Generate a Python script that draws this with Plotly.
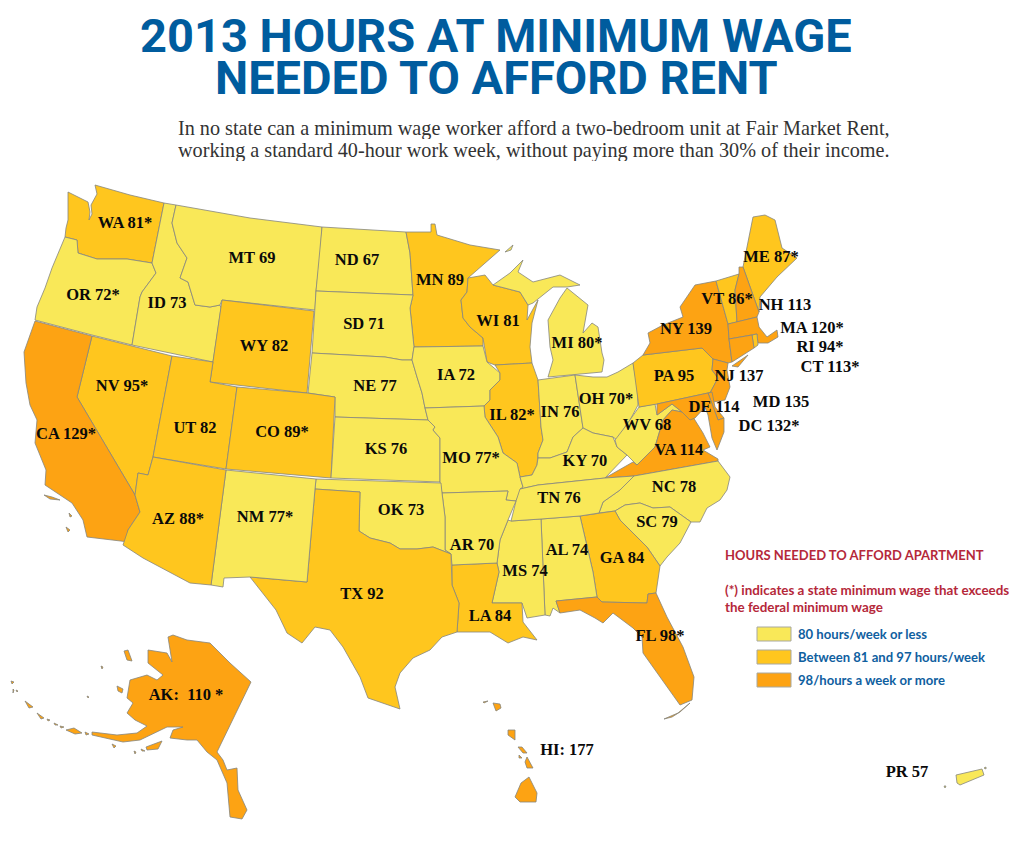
import plotly.graph_objects as go

STATES = ["WA","OR","ID","MT","ND","MN","SD","WY","WI","MI","NV","NE","IA","UT","CO","CA","IL","IN","OH","KS",
          "MO","KY","WV","VA","PA","NY","VT","ME","NH","MA","RI","CT","NJ","DE","MD","DC","NC","SC","GA","AL",
          "MS","LA","FL","TN","AR","OK","TX","NM","AZ","AK","HI","PR"]
HOURS = [81,72,73,69,67,89,71,82,81,80,95,77,72,82,89,129,82,76,70,76,
         77,70,68,114,95,139,86,87,113,120,94,113,137,114,135,132,78,79,84,74,
         74,84,98,76,70,73,92,77,88,110,177,57]
STARRED = ["WA","OR","MI","NV","CO","CA","IL","OH","MO","VT","ME","MA","RI","CT","DC","FL","NM","AZ","AK"]
LABEL_X = [125,93,167,252,357,440,364,264,498,577,122,375,456,195,282,66,512,560,606,386,
           471,585,647,679,674,686,727,771,785,812,820,830,739,714,781,769,674,657,622,567,
           525,490,660,559,472,401,362,265,178,186,567,907]
LABEL_Y = [224,296,304,259,261,281,325,347,322,344,387,387,376,429,433,435,416,413,400,450,
           459,462,426,451,377,330,300,258,306,329,348,368,377,408,403,427,488,523,559,551,
           572,617,637,499,546,511,595,518,520,696,751,773]

TITLE_LINES = ["2013 HOURS AT MINIMUM WAGE", "NEEDED TO AFFORD RENT"]
SUBTITLE_LINES = ["In no state can a minimum wage worker afford a two-bedroom unit at Fair Market Rent,",
                  "working a standard 40-hour work week, without paying more than 30% of their income."]
LEGEND_HEAD = ["HOURS NEEDED TO AFFORD APARTMENT", "(*) indicates a state minimum wage that exceeds", "the federal minimum wage"]
BIN_LABELS = ["80 hours/week or less", "Between 81 and 97 hours/week", "98/hours a week or more"]
BIN_COLORS = ["#F9E858", "#FFC61E", "#FDA313"]

# ---- state outlines, in map units ----
WA = [(68,192),(78,197),(88,202),(90,212),(89,220),(92,214),(91,205),(97,194),(95,185),(130,195),(164,203),(152,263),(127,259),(97,259),(78,253),(77,240),(65,237),(66,228),(68,220)]
OR = [(65,237),(77,240),(78,253),(97,259),(127,259),(152,263),(156,273),(142,292),(140,297),(132,345),(92,335),(35,320),(37,307),(45,288),(52,268)]
CA = [(35,321),(92,336),(77,397),(135,495),(140,512),(128,530),(129,542),(87,537),(83,520),(72,503),(45,485),(46,470),(35,443),(37,420),(30,405),(26,383),(24,352),None,
      (44,495),(52,497),(60,500),(50,499),None,(69,513),(72,516),(70,517),None,(66,527),(70,530),(68,532)]
NV = [(92,336),(172,356),(153,457),(148,475),(138,473),(135,495),(77,397)]
ID = [(164,203),(176,205),(172,223),(177,243),(187,258),(180,278),(188,282),(195,305),(210,307),(220,305),(221,308),(213,362),(132,345),(140,297),(142,292),(156,273),(152,263)]
MT = [(176,205),(250,218),(322,227),(320,258),(316,291),(315,310),(222,300),(220,305),(210,307),(195,305),(188,282),(180,278),(187,258),(177,243),(172,223)]
ND = [(322,227),(406,232),(410,253),(413,295),(316,291)]
SD = [(316,291),(413,295),(410,308),(414,347),(412,360),(402,360),(385,357),(312,353)]
WY = [(222,300),(314,311),(307,393),(210,382)]
UT = [(172,356),(213,362),(210,382),(237,387),(226,469),(153,457)]
CO = [(237,387),(307,393),(335,397),(331,478),(226,469)]
NM = [(226,470),(316,479),(315,489),(307,582),(250,577),(224,578),(223,587),(211,585)]
AZ = [(153,457),(226,470),(211,585),(190,583),(143,558),(123,545),(128,530),(140,512),(135,495),(138,473),(148,475)]
TX = [(315,489),(360,492),(359,531),(370,538),(390,543),(400,549),(417,549),(433,547),(451,554),(452,585),(459,603),(457,632),(442,637),(430,650),(413,658),(400,673),(395,687),(400,709),(368,698),(360,677),(343,647),(330,630),(315,627),(302,643),(287,633),(276,610),(250,577),(307,582)]
OK = [(316,479),(441,483),(442,493),(445,517),(445,550),(451,554),(433,547),(417,549),(400,549),(390,543),(370,538),(359,531),(360,492),(315,489)]
KS = [(335,417),(428,420),(435,427),(433,430),(440,438),(440,482),(331,478)]
NE = [(312,353),(385,357),(402,360),(412,360),(417,377),(422,393),(425,408),(428,420),(335,417),(335,397),(308,393)]
IA = [(414,347),(483,346),(487,362),(500,373),(500,380),(490,390),(490,400),(484,406),(425,408),(422,393),(417,377),(412,360)]
MN = [(406,232),(431,232),(431,224),(435,224),(437,235),(457,241),(470,245),(500,250),(480,268),(468,278),(467,292),(461,300),(463,318),(470,327),(483,338),(483,346),(414,347),(410,308),(413,295),(410,253)]
WI = [(468,278),(485,275),(493,285),(520,292),(528,305),(527,320),(538,300),(532,323),(530,347),(532,363),(495,365),(487,362),(483,338),(470,327),(463,318),(461,300),(467,292)]
IL = [(495,365),(532,363),(538,380),(541,427),(543,440),(538,453),(537,465),(532,475),(520,477),(517,463),(503,453),(498,437),(485,417),(484,406),(490,400),(490,390),(500,380),(500,373)]
MO = [(425,408),(484,406),(485,417),(498,437),(503,453),(517,463),(520,477),(523,487),(516,501),(506,500),(508,491),(442,493),(440,482),(440,438),(433,430),(435,427),(428,420)]
AR = [(442,493),(508,491),(506,500),(516,501),(508,520),(500,540),(497,563),(452,565),(451,554),(445,550),(445,517)]
LA = [(452,565),(497,563),(499,572),(492,603),(522,603),(523,622),(537,640),(523,637),(508,643),(490,632),(457,632),(459,603),(452,585)]
MS = [(511,521),(541,519),(545,615),(527,618),(522,603),(492,603),(499,572),(497,563),(500,540),(508,520)]
AL = [(541,519),(580,516),(593,572),(597,597),(556,601),(560,613),(553,608),(550,616),(545,615)]
GA = [(580,516),(615,511),(620,520),(647,547),(660,566),(656,593),(648,594),(647,603),(602,602),(597,597),(593,572)]
FL = [(556,601),(597,597),(602,602),(647,603),(648,594),(656,593),(667,617),(683,647),(694,677),(692,700),(680,705),(660,677),(643,653),(642,637),(633,628),(613,613),(603,623),(595,618),(580,610),(560,613),None,
      (664,719),(678,713),(690,703),(680,712),(672,717)]
SC = [(615,511),(625,505),(640,503),(653,508),(670,507),(691,522),(680,543),(667,557),(660,566),(647,547),(620,520)]
NC = [(599,513),(603,502),(620,490),(634,476),(718,461),(730,477),(727,490),(720,500),(707,508),(700,522),(691,522),(670,507),(653,508),(640,503),(625,505),(615,511)]
TN = [(520,489),(538,485),(605,478),(634,476),(620,490),(603,502),(599,513),(580,516),(541,519),(511,521),(516,501)]
KY = [(520,477),(532,475),(537,465),(538,458),(550,458),(567,452),(573,437),(583,428),(593,433),(613,437),(617,447),(627,455),(605,478),(538,485),(520,489),(523,487)]
IN = [(538,380),(575,375),(583,428),(573,437),(567,452),(550,458),(538,458),(538,453),(543,440),(541,427)]
OH = [(575,375),(593,377),(607,377),(618,372),(633,363),(637,385),(638,405),(630,420),(625,427),(617,440),(613,437),(593,433),(583,428)]
MI = [(548,377),(602,372),(604,360),(602,353),(598,327),(592,323),(583,333),(588,305),(567,288),(560,298),(548,320),(550,347),(553,360),None,
      (493,285),(510,273),(523,260),(518,272),(533,282),(560,275),(580,285),(567,287),(553,287),(533,303),(528,305),(520,292),None,
      (505,252),(513,245),(511,250)]
WV = [(639,407),(655,404),(657,415),(672,404),(682,412),(672,410),(663,420),(655,447),(637,465),(627,455),(617,447),(615,440),(625,427),(630,420)]
VA = [(605,478),(633,462),(637,465),(655,447),(663,420),(672,410),(682,412),(693,417),(703,433),(710,447),(703,450),(718,459),(718,461),(634,476)]
MD = [(657,404),(708,393),(718,420),(724,418),(724,432),(717,450),(712,438),(708,415),(705,407),(695,418),(690,420),(682,412),(672,404),(657,415)]
DE = [(708,393),(712,392),(715,407),(724,418),(718,420)]
NJ = [(713,359),(728,363),(727,370),(730,387),(725,400),(713,402),(710,393),(718,378),(712,370)]
PA = [(633,363),(643,355),(702,348),(713,359),(712,370),(718,378),(710,393),(708,393),(657,404),(639,407)]
NY = [(643,355),(650,343),(648,333),(663,325),(683,317),(680,307),(695,285),(716,281),(728,324),(729,339),(732,362),(728,363),(713,359),(702,348),None,(732,366),(748,355),(738,367)]
VT = [(716,281),(739,274),(735,290),(737,322),(728,324)]
NH = [(739,267),(743,267),(759,312),(757,317),(737,322),(735,290),(739,274)]
ME = [(743,267),(753,217),(765,215),(775,220),(782,248),(797,258),(777,277),(760,297),(759,312)]
MA = [(728,324),(757,317),(759,327),(767,337),(777,330),(778,337),(768,343),(758,343),(757,334),(729,339)]
CT = [(729,339),(752,335),(754,348),(732,362)]
RI = [(752,335),(757,334),(758,345),(754,348)]
AK = [(168,637),(173,635),(187,640),(210,643),(230,663),(251,682),(217,752),(223,760),(227,770),(237,768),(238,790),(247,810),(242,819),(230,817),(227,783),(217,760),(207,752),(197,740),(187,740),(170,738),(173,730),(183,727),(167,727),(140,740),(123,742),(92,735),(92,732),(117,735),(137,733),(147,726),(135,720),(127,713),(133,703),(127,698),(130,680),(147,675),(157,680),(163,675),(148,663),(148,650),(167,653),(172,662),None,
      (124,651),(128,650),(132,661),(127,660),None,(117,686),(123,689),(122,693),(118,691),None,(146,747),(162,741),(158,749),(147,750),None,
      (66,730),(74,728),(82,733),(75,734),None,(25,701),(33,707),(29,708),None,(37,713),(44,718),(41,719),None,(3,656),(5,655),(6,660),(3,660),None,
      (11,681),(14,682),(12,684),None,(13,689),(14,690),(13,693),None,(16,690),(18,691),(17,692),None,(47,719),(50,720),(48,721),None,(54,723),(58,725),(55,725),None,
      (60,726),(64,727),(61,728),None,(85,732),(89,734),(86,735),None,(101,666),(103,667),(102,669),None,(87,696),(89,697),(88,698),None,
      (112,744),(116,746),(114,748),None,(134,751),(136,752),(135,754),None,(141,749),(145,751),(142,751)]
HI = [(529,777),(537,793),(536,802),(520,802),(515,797),(521,783),None,(527,757),(533,768),(527,768),(525,762),None,(508,730),(515,730),(515,740),(508,735),None,
      (493,703),(500,704),(501,708),(496,711),None,(483,702),(488,701),(484,703),None,(518,747),(522,747),(527,753),(523,753),None,(519,755),(522,758),(519,758)]
PR = [(956,775),(982,769),(984,775),(960,785),(957,783),None,(984,768),(986,767),(986,769),None,(944,786),(946,786),(945,788)]
DC = []

OUTLINES = [WA,OR,ID,MT,ND,MN,SD,WY,WI,MI,NV,NE,IA,UT,CO,CA,IL,IN,OH,KS,MO,KY,WV,VA,PA,NY,VT,ME,NH,MA,RI,CT,NJ,DE,MD,DC,NC,SC,GA,AL,MS,LA,FL,TN,AR,OK,TX,NM,AZ,AK,HI,PR]


def bin_color(h):
    return BIN_COLORS[0] if h <= 80 else BIN_COLORS[1] if h <= 97 else BIN_COLORS[2]


BORDER = "#85857d"
fig = go.Figure()
for abbr, hrs, pts in zip(STATES, HOURS, OUTLINES):
    if not pts:
        continue
    xs = [p[0] if p else None for p in pts]
    ys = [p[1] if p else None for p in pts]
    cx, cy, start = [], [], 0
    for i, p in enumerate(pts + [None]):
        if p is None:
            cx += xs[start:i] + [xs[start], None]
            cy += ys[start:i] + [ys[start], None]
            start = i + 1
    fig.add_trace(go.Scatter(x=cx, y=cy, mode="lines", fill="toself", fillcolor=bin_color(hrs),
                             line=dict(color=BORDER, width=0.8), name=abbr, hoverinfo="skip", showlegend=False))

labels = []
for a, h in zip(STATES, HOURS):
    sep = ": " if a == "HI" else ":  " if a == "AK" else " "
    star = (" *" if a == "AK" else "*") if a in STARRED else ""
    labels.append(f"{a}{sep}{h}{star}")
fig.add_trace(go.Scatter(x=LABEL_X, y=LABEL_Y, mode="text", text=labels, textposition="middle center",
                         textfont=dict(family="Liberation Serif", size=16.5, color="#0a0a0a", weight="bold"),
                         hoverinfo="skip", showlegend=False))

TITLE_BLUE = "#005C9E"
RED = "#B5283A"
LEG_BLUE = "#0F609F"


def note(x, y, text, size, color, family, anchor="left", bold=True, height=None):
    fig.add_annotation(x=x, y=y, xref="x", yref="y", text=f"<b>{text}</b>" if bold else text, showarrow=False,
                       xanchor=anchor, yanchor="middle", height=height,
                       font=dict(size=size, color=color, family=family))


for y, t in zip([35, 77], TITLE_LINES):
    note(496, y, t, 47, TITLE_BLUE, "Roboto", "center", height=42)
for y, t in zip([128, 150], SUBTITLE_LINES):
    note(176, y, t, 20.2, "#333333", "Liberation Serif", bold=False, height=22)
for y, t, s in zip([555, 590, 607], LEGEND_HEAD, [13, 13.4, 13.4]):
    note(723, y, t, s, RED, "Lato")
for y, t, c in zip([634, 657, 680], BIN_LABELS, BIN_COLORS):
    note(796, y, t, 13.1, LEG_BLUE, "Lato")
    fig.add_shape(type="rect", x0=757, x1=791, y0=y - 7, y1=y + 7, fillcolor=c,
                  line=dict(color="#a8a8a0", width=1), xref="x", yref="y")

# The page body keeps an 8 px margin, so the plot covers map units 8..1024 and 8..838.
fig.update_layout(width=1016, height=830, margin=dict(l=0, r=0, t=0, b=0), paper_bgcolor="white",
                  plot_bgcolor="white", showlegend=False, hovermode=False,
                  xaxis=dict(range=[8, 1024], visible=False, fixedrange=True),
                  yaxis=dict(range=[838, 8], visible=False, fixedrange=True))
fig.write_html("out.html", config=dict(displayModeBar=False))
